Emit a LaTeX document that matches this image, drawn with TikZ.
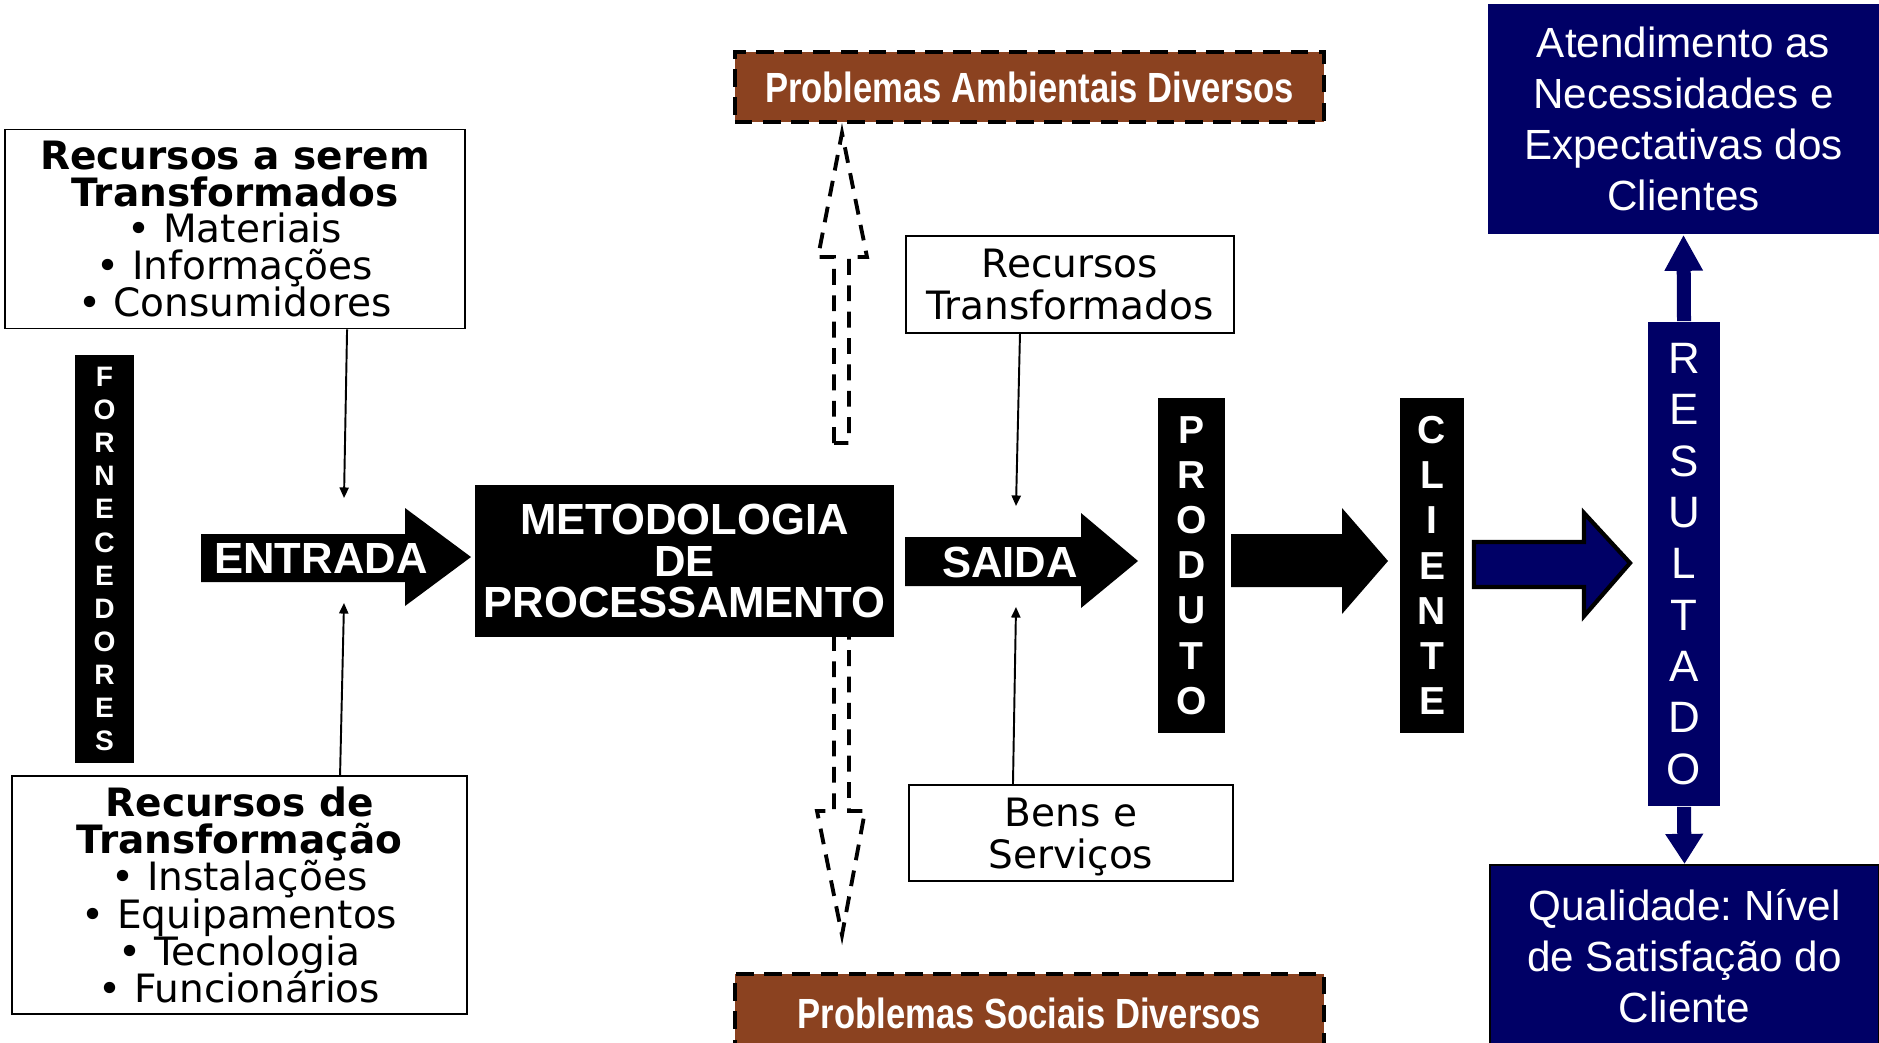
\documentclass[tikz,border=0pt]{standalone}
\usepackage{fontspec}
\setmainfont{Liberation Sans}
\newfontfamily\verdana{DejaVu Sans}
\newfontfamily\narrowfont{Liberation Sans}[FakeStretch=0.82]
\usetikzlibrary{arrows.meta}
\definecolor{navy}{RGB}{0,0,102}
\definecolor{tijolo}{RGB}{139,66,32}
\newcommand\apertado{\lineskiplimit=-100pt\lineskip=0pt\frenchspacing}

\begin{document}
\begin{tikzpicture}[x=0.01cm,y=-0.01cm,
  caixa/.style={draw,line width=0.5pt,fill=white,inner sep=0pt,align=center},
  barra/.style={fill=black,text=white,inner sep=0pt,align=center},
  azul/.style={fill=navy,text=white,inner sep=0pt,align=center},
  problema/.style={fill=tijolo,draw=black,line width=1.1pt,dash pattern=on 5pt off 3pt,
    text=white,inner sep=0pt,font=\narrowfont\bfseries\fontsize{12pt}{14pt}\selectfont},
  seta/.style={text=white,font=\bfseries\fontsize{12.4pt}{14pt}\selectfont},
  fino/.style={draw,line width=0.55pt,-{Triangle[length=3pt,width=2.6pt]}},
  tracejada/.style={draw,line width=1.1pt,dash pattern=on 4.5pt off 3pt}]
  \useasboundingbox (0,0) rectangle (1879,1042);

  \node[caixa,minimum width=4.6cm,minimum height=1.99cm,
    font=\verdana\fontsize{11.1pt}{10.5pt}\selectfont\apertado] (rst) at (235,229)
    {\textbf{Recursos a serem}\\\textbf{Transformados}\\• Materiais\\• Informações\\• Consumidores};
  \node[caixa,minimum width=4.55cm,minimum height=2.38cm,
    font=\verdana\fontsize{11.1pt}{10.6pt}\selectfont\apertado] (rdt) at (239.5,895)
    {\textbf{Recursos de}\\\textbf{Transformação}\\• Instalações\\• Equipamentos\\• Tecnologia\\• Funcionários};
  \node[barra,minimum width=0.59cm,minimum height=4.08cm,
    font=\bfseries\fontsize{8pt}{9.4pt}\selectfont] (forn) at (104.5,559)
    {F\\O\\R\\N\\E\\C\\E\\D\\O\\R\\E\\S};
  \node[barra,minimum width=4.19cm,minimum height=1.52cm,
    font=\bfseries\fontsize{12.4pt}{11.7pt}\selectfont\apertado] (met) at (684.5,561)
    {METODOLOGIA\\DE\\PROCESSAMENTO};
  \node[barra,minimum width=0.67cm,minimum height=3.35cm,
    font=\bfseries\fontsize{11.1pt}{12.86pt}\selectfont] (prod) at (1191.5,565.5)
    {P\\R\\O\\D\\U\\T\\O};
  \node[barra,minimum width=0.64cm,minimum height=3.35cm,
    font=\bfseries\fontsize{11.1pt}{12.86pt}\selectfont] (cli) at (1432,565.5)
    {C\\L\\I\\E\\N\\T\\E};
  \node[azul,minimum width=0.72cm,minimum height=4.84cm,
    font=\fontsize{12.5pt}{14.6pt}\selectfont] (res) at (1684,564)
    {R\\E\\S\\U\\L\\T\\A\\D\\O};
  \node[azul,minimum width=3.91cm,minimum height=2.3cm,
    font=\fontsize{12pt}{14.5pt}\selectfont\apertado] (atend) at (1683.5,119)
    {Atendimento as\\Necessidades e\\Expectativas dos\\Clientes};
  \node[azul,draw=black,line width=0.6pt,minimum width=3.89cm,minimum height=1.82cm,
    font=\fontsize{12pt}{14.5pt}\selectfont\apertado] (qual) at (1684.5,956)
    {Qualidade: Nível\\de Satisfação do\\Cliente};
  \node[problema,minimum width=5.89cm,minimum height=0.7cm] (amb) at (1029.5,87)
    {Problemas Ambientais Diversos};
  \node[problema,minimum width=5.89cm,minimum height=0.78cm] (soc) at (1029.5,1013)
    {Problemas Sociais Diversos};
  \node[caixa,minimum width=3.28cm,minimum height=0.97cm,text depth=0pt,
    font=\verdana\fontsize{11.1pt}{11.9pt}\selectfont\apertado] (rtm) at (1070,284.5)
    {Recursos\\Transformados};
  \node[caixa,minimum width=3.24cm,minimum height=0.96cm,text depth=0pt,
    font=\verdana\fontsize{11.1pt}{11.9pt}\selectfont\apertado] (bens) at (1071,833)
    {Bens e\\Serviços};

  \fill (201,534) -- (405,534) -- (405,508) -- (471,557) -- (405,606) -- (405,582) -- (201,582) -- cycle;
  \fill (905,537) -- (1081,537) -- (1081,513) -- (1138,561) -- (1081,608) -- (1081,586) -- (905,586) -- cycle;
  \fill (1231,534) -- (1342,534) -- (1342,508) -- (1388,561) -- (1342,614) -- (1342,587) -- (1231,587) -- cycle;
  \filldraw[fill=navy,draw=black,line width=1.2pt] (1474,542) -- (1584,542) -- (1584,513) -- (1630,563)
    -- (1584,616) -- (1584,587) -- (1474,587) -- cycle;
  \node[seta] (ent) at (321,558) {ENTRADA};
  \node[seta] (sai) at (1010,562) {SAIDA};

  \draw[tracejada] (834,443) -- (834,257) -- (818,257) -- (842,133) -- (867,257) -- (849,257) -- (849,443) -- cycle;
  \draw[tracejada] (834,635) -- (834,811) -- (817,811) -- (842,935) -- (865,811) -- (849,811) -- (849,635);

  \draw[navy,line width=0.14cm,-{Triangle[width=0.36cm,length=0.36cm]}] (res.north) -- (atend.south);
  \draw[navy,line width=0.14cm,-{Triangle[width=0.36cm,length=0.3cm]}] (res.south) -- (qual.north);

  \coordinate (e1) at (344,498);
  \coordinate (e2) at (344,603);
  \coordinate (s1) at (1016,506);
  \coordinate (s2) at (1016,607);
  \draw[fino] ([xshift=1.12cm]rst.south) -- (e1);
  \draw[fino] ([xshift=1.005cm]rdt.north) -- (e2);
  \draw[fino] ([xshift=-0.5cm]rtm.south) -- (s1);
  \draw[fino] ([xshift=-0.58cm]bens.north) -- (s2);
\end{tikzpicture}
\end{document}
